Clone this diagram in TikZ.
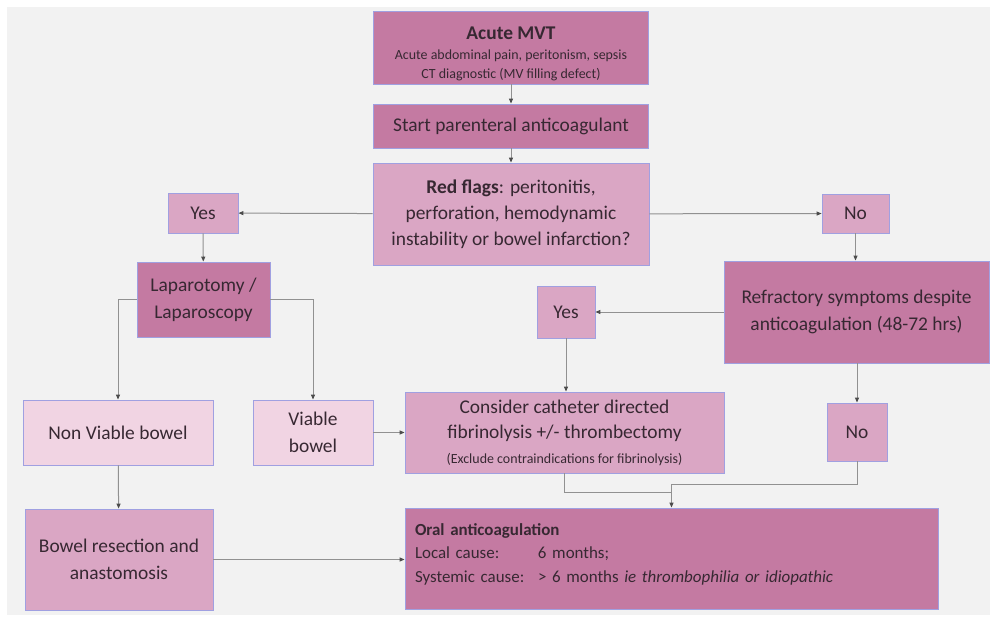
\documentclass[tikz,border=0pt]{standalone}
\usepackage{fontspec}
\setmainfont{Carlito}
\usetikzlibrary{arrows.meta}

\definecolor{bgray}{RGB}{242,242,242}
\definecolor{darkpink}{RGB}{196,122,162}
\definecolor{midpink}{RGB}{218,166,196}
\definecolor{lightpink}{RGB}{241,212,227}
\definecolor{edgeblue}{RGB}{160,160,225}
\definecolor{linegray}{RGB}{145,145,145}
\definecolor{textdark}{RGB}{55,40,50}

\tikzset{
  box/.style={rectangle,draw=edgeblue,line width=0.8bp,inner sep=0pt,align=center,
    text=textdark,font=\fontsize{19.5}{27}\selectfont},
  darkbox/.style={box,fill=darkpink},
  midbox/.style={box,fill=midpink},
  lightbox/.style={box,fill=lightpink},
  line/.style={draw=linegray,line width=1bp},
  flow/.style={line,-{Triangle[length=5bp,width=4bp,color=black!70]}}
}

\begin{document}
\begin{tikzpicture}[x=1bp,y=-1bp]

  \useasboundingbox (0,0) rectangle (996,621);
  \fill[white] (0,0) rectangle (996,621);
  \fill[bgray] (7,7) rectangle (990,615);

  % top column
  \node (acute) at (511,47.5) [darkbox,minimum width=275bp,minimum height=73bp]
    {\rule{0pt}{25pt}\textbf{Acute MVT}\\[-7pt]
     {\fontsize{14}{17}\selectfont Acute abdominal pain, peritonism, sepsis}\\[-8pt]
     {\fontsize{14}{17}\selectfont CT diagnostic (MV filling defect)}};
  \node (start) at (511,126) [darkbox,minimum width=275bp,minimum height=44bp]
    {Start parenteral anticoagulant};
  \node (red) at (511,214) [midbox,minimum width=276bp,minimum height=102bp]
    {\textbf{Red flags}: peritonitis,\\[-1pt] perforation, hemodynamic\\[-1pt] instability or bowel infarction?};

  % first decision
  \node (yesL) at (203,213) [midbox,minimum width=70bp,minimum height=40bp] {Yes};
  \node (noR) at (855.5,213.5) [midbox,minimum width=67bp,minimum height=39bp] {No};
  \node (lapa) at (203.5,299.5) [darkbox,minimum width=133bp,minimum height=75bp]
    {Laparotomy /\\ Laparoscopy};
  \node (refr) at (856.5,312) [darkbox,minimum width=265bp,minimum height=102bp]
    {Refractory symptoms despite\\ anticoagulation (48-72 hrs)};

  % second level
  \node (yesM) at (566,312) [midbox,minimum width=58bp,minimum height=52bp] {Yes};
  \node (nonv) at (118,432.5) [lightbox,minimum width=190bp,minimum height=65bp]
    {Non Viable bowel};
  \node (viab) at (313,432.5) [lightbox,minimum width=120bp,minimum height=65bp]
    {Viable\\ bowel};
  \node (cons) at (564.5,432.5) [midbox,minimum width=319bp,minimum height=81bp]
    {Consider catheter directed\\[-2pt] fibrinolysis +/- thrombectomy\\[-2pt]
     {\fontsize{14}{17}\selectfont (Exclude contraindications for fibrinolysis)}};
  \node (noL) at (857,432) [midbox,minimum width=60bp,minimum height=58bp] {No};

  % bottom row
  \node (bres) at (119,559.5) [midbox,minimum width=188bp,minimum height=101bp]
    {Bowel resection and\\ anastomosis};
  \node (oral) at (671.5,558.5) [darkbox,minimum width=533bp,minimum height=101bp,
    text width=513bp,align=left,font=\fontsize{17}{24}\selectfont]
    {\textbf{Oral anticoagulation}\\
     \makebox[123bp][l]{Local cause:}6 months;\\
     \makebox[123bp][l]{Systemic cause:}> 6 months \textit{ie thrombophilia or idiopathic}\rule[-11pt]{0pt}{1pt}};

  \coordinate (mergeNo) at (671.5,484);
  \coordinate (mergeCons) at (671.5,492);

  % connectors
  \draw[flow] (acute) -- (start);
  \draw[flow] (start) -- (red);
  \draw[flow] (red) -- (yesL);
  \draw[flow] (red) -- (noR);
  \draw[flow] (yesL) -- (lapa);
  \draw[flow] (noR.south) -- (noR.south |- refr.north);
  \draw[flow] (refr) -- (yesM);
  \draw[flow] (yesM) -- (yesM |- cons.north);
  \draw[flow] (refr.south -| noL) -- (noL);
  \draw[flow] (lapa.west) -| (nonv.north);
  \draw[flow] (lapa.east) -| (viab.north);
  \draw[flow] (viab) -- (cons);
  \draw[flow] (nonv) -- (bres);
  \draw[flow] (bres) -- (oral.west |- bres);
  \draw[line] (noL.south) |- (mergeNo);
  \draw[line] (cons.south) |- (mergeCons);
  \draw[flow] (mergeNo) -- (oral.north);

\end{tikzpicture}
\end{document}
